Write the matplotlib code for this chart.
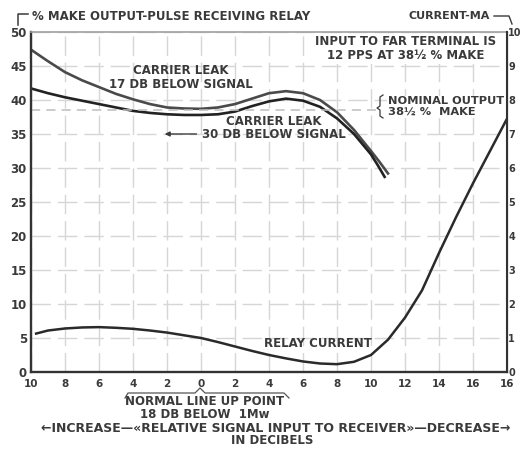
import matplotlib
matplotlib.use('Agg')
import matplotlib.pyplot as plt
from matplotlib.lines import Line2D

# relative signal input, dB (negative = increase side of the normal line-up point)
x_17db = [-10, -9, -8, -7, -6, -5, -4, -3, -2, -1, 0, 1, 2, 3, 4, 5, 6, 7, 8, 9, 10, 10.5, 11]
make_17db = [47.4, 45.7, 44.1, 42.9, 41.9, 40.9, 40.1, 39.4, 38.9, 38.75, 38.7, 38.9, 39.4,
             40.2, 41.0, 41.3, 41.0, 40.0, 38.2, 35.6, 32.5, 30.9, 29.2]

x_30db = [-10, -9, -8, -7, -6, -5, -4, -3, -2, -1, 0, 1, 2, 3, 4, 5, 6, 7, 8, 9, 10, 10.4, 10.8]
make_30db = [41.7, 41.0, 40.4, 39.9, 39.4, 38.9, 38.4, 38.1, 37.9, 37.8, 37.8, 37.9, 38.3,
             39.1, 39.8, 40.2, 39.9, 39.0, 37.3, 35.0, 32.0, 30.4, 28.7]

x_current = [-9.7, -9, -8, -7, -6, -5, -4, -3, -2, -1, 0, 1, 2, 3, 4, 5, 6, 7, 8, 9, 10,
             11, 12, 13, 14, 15, 16, 17, 18]
relay_ma = [1.13, 1.22, 1.28, 1.31, 1.32, 1.30, 1.27, 1.22, 1.16, 1.08, 1.0, 0.88, 0.75,
            0.62, 0.5, 0.4, 0.31, 0.25, 0.23, 0.3, 0.5, 0.95, 1.6, 2.4, 3.5, 4.55, 5.55, 6.5, 7.45]

nominal = 38.5
xticks = [-10, -8, -6, -4, -2, 0, 2, 4, 6, 8, 10, 12, 14, 16, 18]
xlabels = ['10', '8', '6', '4', '2', '0', '2', '4', '6', '8', '10', '12', '14', '16', '16']
yticks_left = [0, 5, 10, 15, 20, 25, 30, 35, 40, 45, 50]
yticks_right = [0, 1, 2, 3, 4, 5, 6, 7, 8, 9, 10]

ink = '#3a3a3a'
plt.rcParams['font.family'] = ['DejaVu Sans']
plt.rcParams['font.weight'] = 'bold'

fig = plt.figure(figsize=(5.21, 4.5), dpi=100)
ax = fig.add_axes([31 / 521, 78 / 450, 476 / 521, 340 / 450])
ax2 = ax.twinx()

ax.set_xlim(-10, 18)
ax.set_ylim(0, 50)
ax2.set_ylim(0, 10)

ax.set_xticks(xticks)
ax.set_xticklabels(xlabels)
ax.set_yticks(yticks_left)
ax2.set_yticks(yticks_right)
ax.tick_params(length=0, labelsize=7.5, colors=ink, pad=5)
ax.tick_params(axis='y', labelsize=8.5, pad=3)
ax2.tick_params(length=0, labelsize=7, colors=ink, pad=1)

ax.grid(True, color='#d6d6d6', lw=1.0, linestyle=(0, (14, 5)))
for s in ['left', 'bottom']:
    ax.spines[s].set_color('#333333')
    ax.spines[s].set_linewidth(1.7)
ax.spines['top'].set_color('#a0a0a0')
ax.spines['top'].set_linewidth(1.2)
ax2.spines['right'].set_color('#333333')
ax2.spines['right'].set_linewidth(1.5)
ax2.spines['top'].set_visible(False)
ax2.spines['left'].set_visible(False)
ax2.spines['bottom'].set_visible(False)

ax.plot(x_17db, make_17db, color='#4a4a4a', lw=1.9)
ax.plot(x_30db, make_30db, color='#222222', lw=1.9)
ax2.plot(x_current, relay_ma, color='#2a2a2a', lw=1.8)

# nominal output dashed line
ax.plot([-10, 10.3], [nominal, nominal], color='#bdbdbd', lw=1.1, linestyle=(0, (6, 4)))

fs = 8.5
ax.text(12.06, 49.5, 'INPUT TO FAR TERMINAL IS\n12 PPS AT 38½ % MAKE', ha='center', va='top',
        fontsize=fs, color=ink, linespacing=1.1,
        bbox=dict(facecolor='white', edgecolor='none', pad=1))
ax.text(-1.2, 43.3, 'CARRIER LEAK\n17 DB BELOW SIGNAL', ha='center', va='center',
        fontsize=fs, color=ink, linespacing=1.1)
ax.text(4.3, 35.9, 'CARRIER LEAK\n30 DB BELOW SIGNAL', ha='center', va='center',
        fontsize=fs, color=ink, linespacing=1.0)
ax.annotate('', xy=(-2.3, 35.0), xytext=(-0.1, 35.0),
            arrowprops=dict(arrowstyle='-|>', color=ink, lw=1.0, mutation_scale=7))
ax.text(11.0, 39.0, 'NOMINAL OUTPUT\n38½ %  MAKE', ha='left', va='center',
        fontsize=8.2, color=ink, linespacing=1.1,
        bbox=dict(facecolor='white', edgecolor='none', pad=0.5))
ax.text(6.9, 4.2, 'RELAY CURRENT', ha='center', va='center', fontsize=fs, color=ink)

# curly brace before the nominal output note (figure pixels)
nbx = [383, 380, 380, 377, 380, 380, 383]
nby = [95, 97, 106, 108, 110, 116, 118]
fig.add_artist(Line2D([v / 521 for v in nbx], [1 - v / 450 for v in nby],
                      transform=fig.transFigure, color=ink, lw=0.9))

# labels above the frame
fig.text(32 / 521, 1 - 17 / 450, '% MAKE OUTPUT-PULSE RECEIVING RELAY', ha='left', va='center',
         fontsize=8.5, color=ink)
fig.add_artist(Line2D([18 / 521, 18 / 521, 28 / 521], [1 - 25 / 450, 1 - 14 / 450, 1 - 14 / 450],
                      transform=fig.transFigure, color=ink, lw=1.1))
fig.text(490 / 521, 1 - 16 / 450, 'CURRENT-MA', ha='right', va='center', fontsize=8, color=ink)
fig.add_artist(Line2D([494 / 521, 509 / 521, 512 / 521], [1 - 16 / 450, 1 - 16 / 450, 1 - 24 / 450],
                      transform=fig.transFigure, color=ink, lw=1.0))

# brace under the normal line-up point
bx = [125, 128, 195, 200, 205, 284, 289]
by = [398, 393, 393, 388, 393, 393, 398]
fig.add_artist(Line2D([v / 521 for v in bx], [1 - v / 450 for v in by],
                      transform=fig.transFigure, color='#555555', lw=0.9))
fig.text(205 / 521, 1 - 408 / 450, 'NORMAL LINE UP POINT\n18 DB BELOW  1Mw', ha='center',
         va='center', fontsize=fs, color=ink, linespacing=1.05)
fig.text(276 / 521, 1 - 428 / 450, '←INCREASE—«RELATIVE SIGNAL INPUT TO RECEIVER»—DECREASE→',
         ha='center', va='center', fontsize=9, color=ink)
fig.text(272 / 521, 1 - 440 / 450, 'IN DECIBELS', ha='center', va='center', fontsize=fs, color=ink)

fig.savefig('out.png', dpi=100, facecolor='white')
